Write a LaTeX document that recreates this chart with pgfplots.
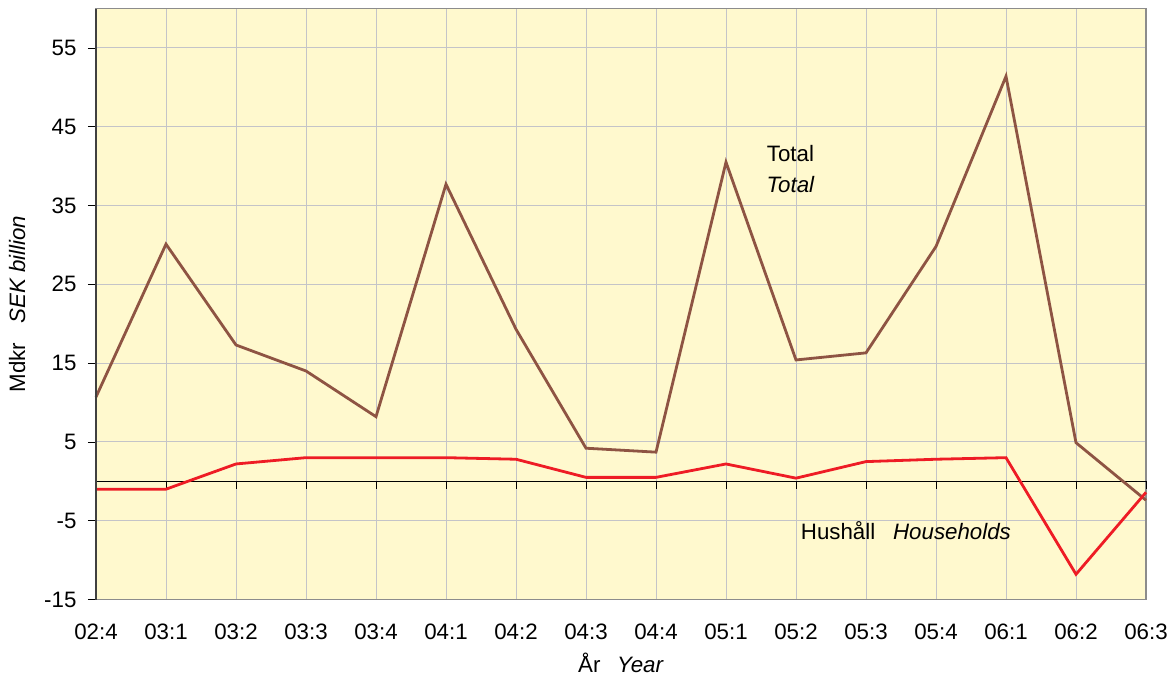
\documentclass[border=0pt]{standalone}
\usepackage{fontspec}
\setmainfont{Liberation Sans}
\usepackage{pgfplots}
\pgfplotsset{compat=1.18}
\definecolor{bgy}{HTML}{FFF9CE}
\definecolor{totc}{HTML}{8E5443}
\definecolor{hhc}{HTML}{EE1C25}
\definecolor{gridc}{HTML}{C4C4C8}
\newcommand{\fs}{\fontsize{22.3}{26}\selectfont}
\begin{document}
\begin{tikzpicture}
\begin{axis}[
  scale only axis, width=1050pt, height=591pt,
  xmin=0, xmax=15, ymin=-15, ymax=60,
  xtick={0,...,15},
  xticklabels={02:4,03:1,03:2,03:3,03:4,04:1,04:2,04:3,04:4,05:1,05:2,05:3,05:4,06:1,06:2,06:3},
  ytick={-15,-5,5,15,25,35,45,55},
  ytick pos=left,
  /pgf/number format/assume math mode=true,
  ticklabel style={font=\fs},
  xtick style={draw=none},
  ytick style={black, line width=0.8pt},
  tick align=outside, major tick length=8pt,
  xticklabel style={yshift=-13pt},
  yticklabel style={xshift=-8pt},
  grid=major, grid style={gridc, line width=0.9pt},
  axis background/.style={fill=bgy},
  axis line style={draw=gray!90, line width=1.2pt},
  xlabel={År\hspace{0.75em}\textit{Year}}, ylabel={Mdkr\hspace{0.85em}\textit{SEK billion}},
  label style={font=\fs},
  xlabel style={yshift=-6pt},
  ylabel style={yshift=12pt},
  clip=false,
]
\draw[black, line width=0.9pt] (axis cs:0,0) -- (axis cs:15,0);
\pgfplotsinvokeforeach{0,...,15}{\draw[black, line width=0.9pt] (axis cs:#1,0) -- (axis cs:#1,-1);}
\addplot[totc, line width=2.8pt] coordinates {
(0,10.7) (1,30.1) (2,17.3) (3,14.0) (4,8.2) (5,37.7) (6,19.3) (7,4.2) (8,3.7)
(9,40.5) (10,15.4) (11,16.3) (12,29.8) (13,51.4) (14,4.9) (15,-2.4)};
\addplot[hhc, line width=2.8pt] coordinates {
(0,-1.0) (1,-1.0) (2,2.2) (3,3.0) (4,3.0) (5,3.0) (6,2.8) (7,0.5) (8,0.5)
(9,2.2) (10,0.4) (11,2.5) (12,2.8) (13,3.0) (14,-11.8) (15,-1.4)};
\draw[black!75, line width=1.8pt] (axis cs:0,-15) -- (axis cs:0,60);
\node[font=\fs] at (axis cs:9.92,41.6) {Total};
\node[font=\fs\itshape] at (axis cs:9.92,37.7) {Total};
\node[font=\fs] at (axis cs:11.57,-6.3) {Hushåll\hspace{0.8em}\textit{Households}};
\end{axis}
\pgfresetboundingbox
\path (current axis.south west) ++(-96pt,-78.5pt) rectangle ++(1175pt,678pt);
\end{tikzpicture}
\end{document}
